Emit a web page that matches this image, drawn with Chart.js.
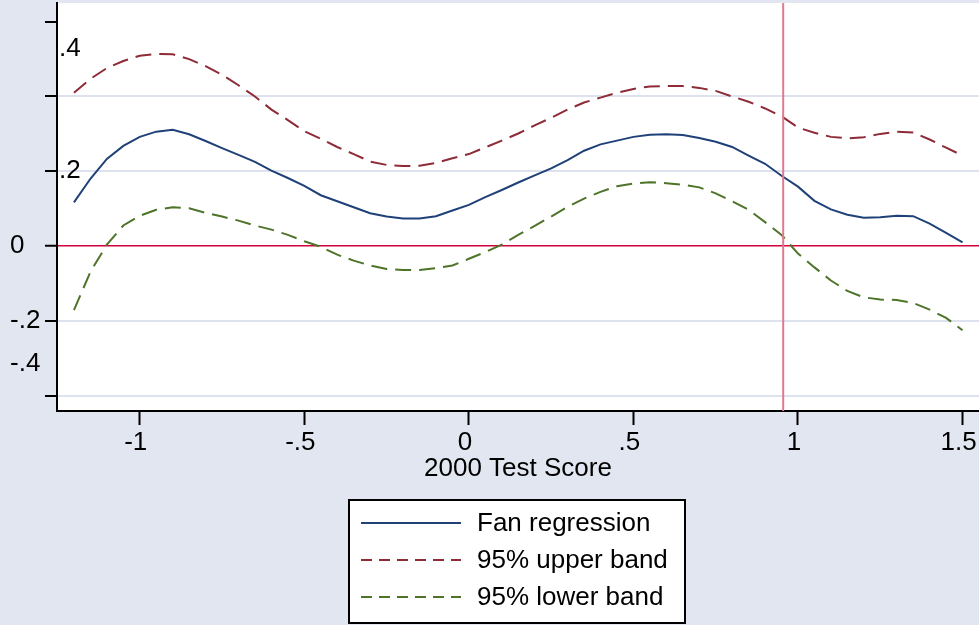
<!DOCTYPE html>
<html>
<head>
<meta charset="utf-8">
<title>Fan regression</title>
<script src="https://cdn.jsdelivr.net/npm/chart.js@4"></script>
<style>
  html, body { margin: 0; padding: 0; background: #e1e6f0; }
  #wrap { width: 979px; height: 625px; }
</style>
</head>
<body>
<div id="wrap"><canvas id="fanChart" width="979" height="625"></canvas></div>
<script>
// test score grid (x) and the three fitted series
const testScores = [
  -1.20, -1.15, -1.10, -1.05, -1.00, -0.95, -0.90, -0.85, -0.80, -0.75,
  -0.70, -0.65, -0.60, -0.55, -0.50, -0.45, -0.40, -0.35, -0.30, -0.25,
  -0.20, -0.15, -0.10, -0.05, 0.00, 0.05, 0.10, 0.15, 0.20, 0.25,
  0.30, 0.35, 0.40, 0.45, 0.50, 0.55, 0.60, 0.65, 0.70, 0.75,
  0.80, 0.85, 0.90, 0.95, 1.00, 1.05, 1.10, 1.15, 1.20, 1.25,
  1.30, 1.35, 1.40, 1.45, 1.50
];
const fanFit = [
  0.117, 0.180, 0.233, 0.268, 0.292, 0.306, 0.311, 0.299, 0.281, 0.262,
  0.244, 0.225, 0.202, 0.182, 0.161, 0.136, 0.120, 0.104, 0.088, 0.079,
  0.074, 0.074, 0.080, 0.095, 0.110, 0.131, 0.150, 0.170, 0.189, 0.208,
  0.230, 0.255, 0.272, 0.282, 0.292, 0.298, 0.299, 0.297, 0.289, 0.279,
  0.265, 0.242, 0.220, 0.188, 0.159, 0.121, 0.098, 0.084, 0.076, 0.077,
  0.081, 0.080, 0.060, 0.035, 0.010
];
const upperBand = [
  0.410, 0.447, 0.476, 0.495, 0.509, 0.514, 0.513, 0.500, 0.481, 0.458,
  0.430, 0.400, 0.365, 0.337, 0.307, 0.287, 0.265, 0.246, 0.226, 0.217,
  0.214, 0.215, 0.222, 0.235, 0.246, 0.264, 0.282, 0.301, 0.323, 0.343,
  0.365, 0.384, 0.397, 0.410, 0.420, 0.427, 0.428, 0.428, 0.423, 0.415,
  0.400, 0.386, 0.368, 0.347, 0.317, 0.303, 0.292, 0.288, 0.291, 0.300,
  0.306, 0.304, 0.285, 0.263, 0.242
];
const lowerBand = [
  -0.171, -0.069, 0.004, 0.055, 0.081, 0.097, 0.104, 0.101, 0.089, 0.079,
  0.068, 0.055, 0.044, 0.030, 0.013, -0.002, -0.023, -0.039, -0.052, -0.061,
  -0.064, -0.064, -0.059, -0.052, -0.034, -0.016, 0.004, 0.030, 0.054, 0.079,
  0.105, 0.127, 0.145, 0.160, 0.167, 0.171, 0.168, 0.164, 0.157, 0.141,
  0.120, 0.097, 0.064, 0.030, -0.020, -0.057, -0.092, -0.120, -0.137, -0.143,
  -0.144, -0.152, -0.170, -0.192, -0.225
];

const xTickValues = [-1, -0.5, 0, 0.5, 1, 1.5];
const xTickLabels = ['-1', '-.5', '0', '.5', '1', '1.5'];
const yTickValues = [-0.4, -0.2, 0, 0.2, 0.4, 0.6];
// the y labels sit where the original graph put them, not on the ticks
const yTickLabels = ['.4', '.2', '0', '-.2', '-.4'];
const yLabelAt = [0.527, 0.2, 0, -0.2, -0.316];
const refLineX = 0.955;

const fontFamily = '"Liberation Sans", Arial, sans-serif';
const txtFont = { family: fontFamily, size: 26 };
const bgColor = '#e1e6f0';

function toPoints(ys) {
  return ys.map((y, i) => ({ x: testScores[i], y: y }));
}

const framePlugin = {
  id: 'frame',
  beforeDraw(chart) {
    const { ctx, chartArea: a, width, height } = chart;
    ctx.save();
    ctx.fillStyle = bgColor;
    ctx.fillRect(0, 0, width, height);
    ctx.fillStyle = '#ffffff';
    ctx.fillRect(a.left, a.top, a.right - a.left, a.bottom - a.top);
    ctx.restore();
  },
  afterDatasetsDraw(chart) {
    // vertical reference line
    const { ctx, chartArea: a } = chart;
    const px = chart.scales.x.getPixelForValue(refLineX);
    ctx.save();
    ctx.strokeStyle = '#e07a90';
    ctx.lineWidth = 2;
    ctx.beginPath();
    ctx.moveTo(px, a.top);
    ctx.lineTo(px, a.bottom);
    ctx.stroke();
    ctx.restore();
  },
  afterDraw(chart) {
    const { ctx, chartArea: a } = chart;
    const yScale = chart.scales.y;
    ctx.save();
    ctx.font = '26px ' + fontFamily;
    ctx.fillStyle = '#000';
    ctx.textBaseline = 'middle';
    ctx.textAlign = 'left';
    yTickLabels.forEach((lab, i) => {
      const py = yScale.getPixelForValue(yLabelAt[i]);
      const px = yLabelAt[i] > 0 ? a.left + 2 : 10;
      ctx.fillText(lab, px, py);
    });

    // legend box
    const bx = 349, by = 500, bw = 336, bh = 123;
    ctx.fillStyle = '#ffffff';
    ctx.fillRect(bx, by, bw, bh);
    ctx.strokeStyle = '#000';
    ctx.lineWidth = 2;
    ctx.strokeRect(bx, by, bw, bh);
    chart.data.datasets.forEach((ds, i) => {
      const y = 523 + i * 37;
      ctx.strokeStyle = ds.borderColor;
      ctx.lineWidth = 2;
      ctx.setLineDash(ds.borderDash ? [11, 7] : []);
      ctx.beginPath();
      ctx.moveTo(361, y);
      ctx.lineTo(461, y);
      ctx.stroke();
      ctx.setLineDash([]);
      ctx.fillStyle = '#000';
      ctx.fillText(ds.label, 477, y + 1);
    });
    ctx.restore();
  }
};

const ctx = document.getElementById('fanChart').getContext('2d');
const fanChart = new Chart(ctx, {
  type: 'line',
  data: {
    datasets: [{
      label: 'Fan regression',
      data: toPoints(fanFit),
      borderColor: '#1f4178',
      borderWidth: 2
    }, {
      label: '95% upper band',
      data: toPoints(upperBand),
      borderColor: '#8e2b37',
      borderWidth: 2,
      borderDash: [16, 8]
    }, {
      label: '95% lower band',
      data: toPoints(lowerBand),
      borderColor: '#4e7429',
      borderWidth: 2,
      borderDash: [16, 8]
    }]
  },
  options: {
    responsive: false,
    animation: false,
    layout: { padding: { top: 3, right: 0, bottom: 141, left: 0 } },
    elements: { point: { radius: 0 }, line: { tension: 0 } },
    plugins: {
      legend: { display: false },
      tooltip: { enabled: false }
    },
    scales: {
      x: {
        type: 'linear',
        min: -1.2515,
        max: 1.55,
        afterBuildTicks: s => { s.ticks = xTickValues.map(v => ({ value: v })); },
        afterFit: s => { s.height = 73; s.paddingLeft = 0; s.paddingRight = 0; },
        ticks: {
          callback: (v, i) => xTickLabels[i],
          font: txtFont,
          color: '#000',
          padding: 2,
          labelOffset: -4,
          maxRotation: 0
        },
        grid: { drawOnChartArea: false, tickLength: 14, tickColor: '#000', tickWidth: 2 },
        border: { color: '#000', width: 2 },
        title: { display: true, text: '2000 Test Score', font: txtFont, color: '#000', padding: 0 }
      },
      y: {
        min: -0.441,
        max: 0.65,
        afterBuildTicks: s => { s.ticks = yTickValues.map(v => ({ value: v })); },
        afterFit: s => { s.width = 57; },
        ticks: { display: false },
        grid: {
          color: c => {
            const v = c.tick ? c.tick.value : null;
            if (v === 0) return '#d4003c';
            if (v > 0.5) return 'rgba(0,0,0,0)';
            return '#dde2ee';
          },
          lineWidth: c => (c.tick && c.tick.value === 0 ? 1.5 : 2),
          tickLength: 12,
          tickColor: '#000',
          tickWidth: 2
        },
        border: { color: '#000', width: 2 }
      }
    }
  },
  plugins: [framePlugin]
});
</script>
</body>
</html>
